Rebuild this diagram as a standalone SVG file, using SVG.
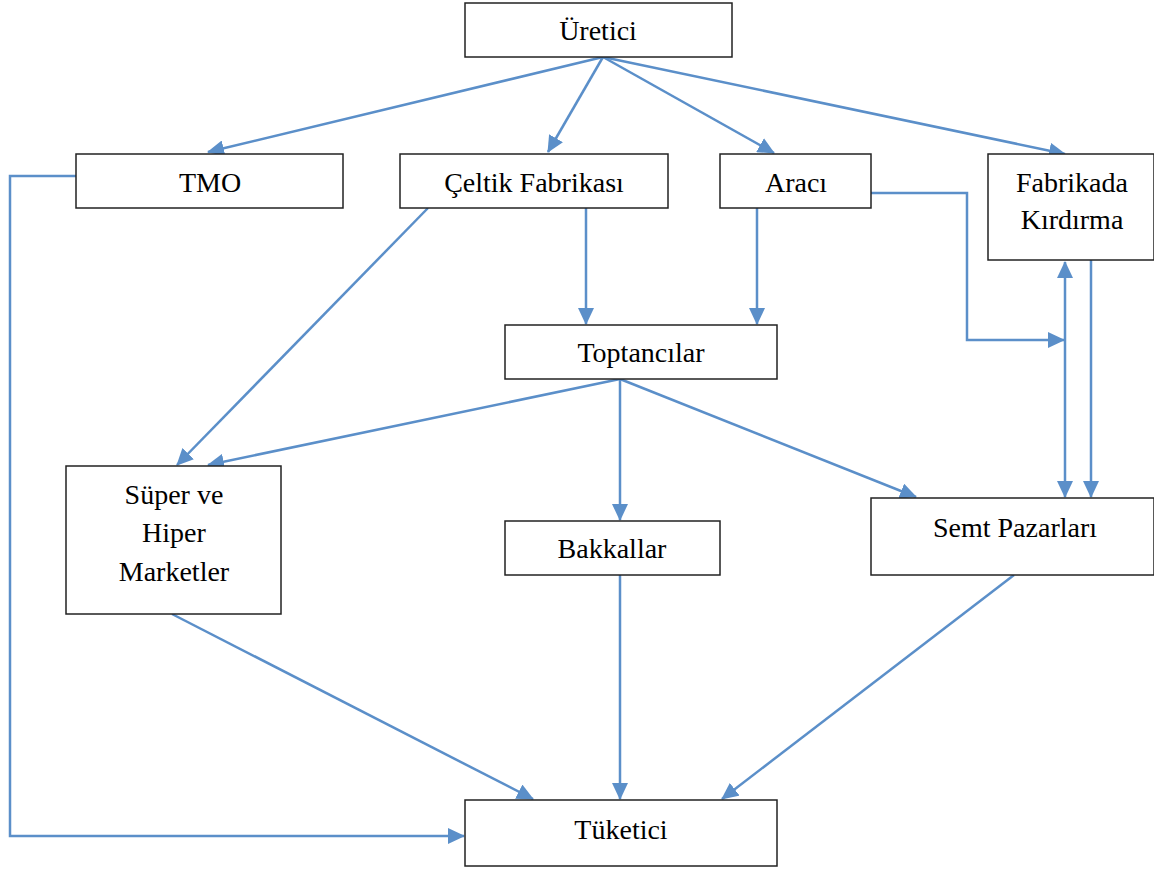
<svg xmlns="http://www.w3.org/2000/svg" width="1154" height="871" viewBox="0 0 1154 871">
  <style>
    .box { fill: #ffffff; stroke: #222222; stroke-width: 1.5; }
    .lbl { font-family: "Liberation Serif", "Times New Roman", serif; font-size: 28px; fill: #000000; text-anchor: middle; }
    .edge { fill: none; stroke: #5b8fc9; stroke-width: 2.5; }
  </style>
  <defs>
    <marker id="arrow" markerUnits="userSpaceOnUse" markerWidth="17" markerHeight="16" viewBox="0 0 17 16" refX="16" refY="8" orient="auto-start-reverse">
      <path d="M0,0 L17,8 L0,16 Z" fill="#5b8fc9"/>
    </marker>
  </defs>

  <rect width="1154" height="871" fill="#ffffff"/>

  <g id="connectors">
    <line class="edge" x1="603" y1="57" x2="208" y2="152" marker-end="url(#arrow)"/>
    <line class="edge" x1="603" y1="57" x2="548" y2="152" marker-end="url(#arrow)"/>
    <line class="edge" x1="603" y1="57" x2="774" y2="153" marker-end="url(#arrow)"/>
    <line class="edge" x1="603" y1="57" x2="1065" y2="154" marker-end="url(#arrow)"/>
    <polyline class="edge" points="76,176 10,176 10,836 464,836" marker-end="url(#arrow)"/>
    <line class="edge" x1="428" y1="208" x2="177" y2="465" marker-end="url(#arrow)"/>
    <line class="edge" x1="586" y1="208" x2="586" y2="324" marker-end="url(#arrow)"/>
    <line class="edge" x1="757" y1="208" x2="757" y2="324" marker-end="url(#arrow)"/>
    <polyline class="edge" points="871,193 967,193 967,340 1064,340" marker-end="url(#arrow)"/>
    <line class="edge" x1="1065" y1="262" x2="1065" y2="497" marker-start="url(#arrow)" marker-end="url(#arrow)"/>
    <line class="edge" x1="1091" y1="260" x2="1091" y2="497" marker-end="url(#arrow)"/>
    <line class="edge" x1="620" y1="379" x2="208" y2="465" marker-end="url(#arrow)"/>
    <line class="edge" x1="620" y1="379" x2="620" y2="520" marker-end="url(#arrow)"/>
    <line class="edge" x1="620" y1="379" x2="916" y2="497" marker-end="url(#arrow)"/>
    <line class="edge" x1="172" y1="614" x2="533" y2="799" marker-end="url(#arrow)"/>
    <line class="edge" x1="620" y1="575" x2="620" y2="799" marker-end="url(#arrow)"/>
    <line class="edge" x1="1014" y1="575" x2="722" y2="799" marker-end="url(#arrow)"/>
  </g>

  <g id="uretici">
    <rect class="box" x="465" y="3" width="267" height="54"/>
    <text class="lbl" x="598" y="40">Üretici</text>
  </g>
  <g id="tmo">
    <rect class="box" x="76" y="154" width="267" height="54"/>
    <text class="lbl" x="210" y="192">TMO</text>
  </g>
  <g id="celtik-fabrikasi">
    <rect class="box" x="400" y="154" width="268" height="54"/>
    <text class="lbl" x="534" y="192">Çeltik Fabrikası</text>
  </g>
  <g id="araci">
    <rect class="box" x="720" y="154" width="151" height="54"/>
    <text class="lbl" x="796" y="192">Aracı</text>
  </g>
  <g id="fabrikada-kirdirma">
    <rect class="box" x="988" y="154" width="166" height="106"/>
    <text class="lbl" x="1072" y="192">Fabrikada</text>
    <text class="lbl" x="1072" y="229">Kırdırma</text>
  </g>
  <g id="toptancilar">
    <rect class="box" x="505" y="325" width="272" height="54"/>
    <text class="lbl" x="641" y="362">Toptancılar</text>
  </g>
  <g id="super-hiper-marketler">
    <rect class="box" x="66" y="466" width="215" height="148"/>
    <text class="lbl" x="174" y="504">Süper ve</text>
    <text class="lbl" x="174" y="542">Hiper</text>
    <text class="lbl" x="174" y="581">Marketler</text>
  </g>
  <g id="bakkallar">
    <rect class="box" x="505" y="521" width="215" height="54"/>
    <text class="lbl" x="612" y="558">Bakkallar</text>
  </g>
  <g id="semt-pazarlari">
    <rect class="box" x="871" y="498" width="283" height="77"/>
    <text class="lbl" x="1015" y="537">Semt Pazarları</text>
  </g>
  <g id="tuketici">
    <rect class="box" x="465" y="800" width="312" height="66"/>
    <text class="lbl" x="621" y="839">Tüketici</text>
  </g>
</svg>
